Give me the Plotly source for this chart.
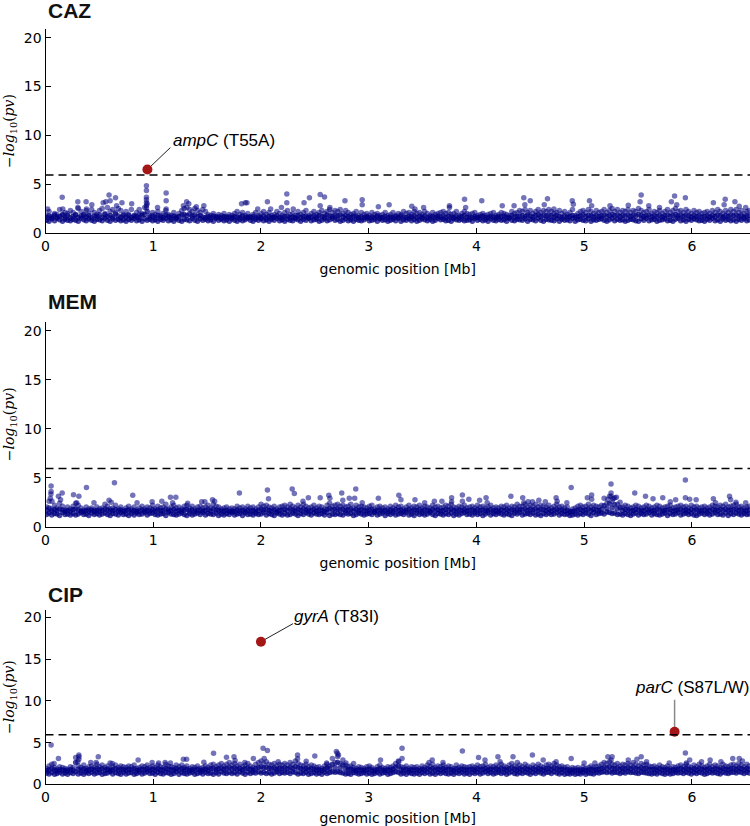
import plotly.graph_objects as go

# ---------------- data ----------------
panels = ["CAZ", "MEM", "CIP"]
threshold = 5.95

# shared SNP positions along the genome, in kb
snp_kb = [
    10, 33, 58, 84, 107, 131, 158, 182, 205, 231,
    256, 280, 304, 330, 355, 378, 402, 428, 453, 477,
    501, 526, 552, 575, 600, 624, 650, 676, 699, 723,
    748, 772, 797, 823, 846, 870, 896, 921, 944, 969,
    994, 1018, 1043, 1068, 1092, 1117, 1141, 1166, 1191, 1214,
    1239, 1265, 1288, 1312, 1338, 1362, 1386, 1411, 1436, 1460,
    1485, 1509, 1534, 1558, 1584, 1607, 1632, 1657, 1681, 1706,
    1731, 1755, 1779, 1804, 1829, 1853, 1878, 1902, 1927, 1951,
    1977, 2001, 2025, 2050, 2075, 2099, 2123, 2148, 2173, 2197,
    2221, 2246, 2271, 2295, 2320, 2344, 2369, 2394, 2418, 2442,
    2467, 2492, 2516, 2540, 2565, 2590, 2614, 2638, 2663, 2688,
    2712, 2736, 2761, 2786, 2810, 2834, 2859, 2884, 2908, 2932,
    2957, 2982, 3006, 3030, 3055, 3080, 3104, 3128, 3153, 3178,
    3202, 3226, 3251, 3276, 3300, 3324, 3349, 3374, 3398, 3422,
    3447, 3472, 3496, 3520, 3545, 3570, 3594, 3618, 3643, 3668,
    3692, 3716, 3741, 3766, 3790, 3814, 3839, 3864, 3888, 3912,
    3937, 3962, 3986, 4010, 4035, 4060, 4084, 4108, 4133, 4158,
    4182, 4206, 4231, 4256, 4280, 4304, 4329, 4354, 4378, 4402,
    4427, 4452, 4476, 4500, 4525, 4550, 4574, 4598, 4623, 4648,
    4672, 4696, 4721, 4746, 4770, 4794, 4819, 4844, 4868, 4892,
    4917, 4942, 4966, 4990, 5015, 5040, 5064, 5088, 5113, 5138,
    5162, 5186, 5211, 5236, 5260, 5284, 5309, 5334, 5358, 5382,
    5407, 5432, 5456, 5480, 5505, 5530, 5554, 5578, 5603, 5628,
    5652, 5676, 5701, 5726, 5750, 5774, 5799, 5824, 5848, 5872,
    5897, 5922, 5946, 5970, 5995, 6020, 6044, 6068, 6093, 6118,
    6142, 6166, 6191, 6216, 6240, 6264, 6289, 6314, 6338, 6362,
    6387, 6412, 6436, 6460, 6485, 6510, 6532,
]

# -log10(p) of the dense band: lower, middle and upper members per position
caz_lo = [
    1.3, 1.2, 1.45, 1.25, 1.5, 1.35, 1.2, 1.4, 1.3, 1.25,
    1.4, 1.3, 1.2, 1.5, 1.35, 1.25, 1.45, 1.3, 1.2, 1.4,
    1.35, 1.25, 1.5, 1.3, 1.2, 1.45, 1.3, 1.4, 1.25, 1.35,
    1.2, 1.4, 1.3, 1.5, 1.25, 1.35, 1.2, 1.45, 1.3, 1.4,
    1.25, 1.35, 1.2, 1.4, 1.3, 1.5, 1.25, 1.35, 1.2, 1.45,
    1.3, 1.2, 1.4, 1.35, 1.25, 1.5, 1.3, 1.2, 1.45, 1.3,
    1.4, 1.25, 1.35, 1.2, 1.5, 1.3, 1.4, 1.25, 1.35, 1.2,
    1.45, 1.3, 1.2, 1.4, 1.25, 1.35, 1.5, 1.3, 1.2, 1.4,
    1.3, 1.45, 1.25, 1.35, 1.2, 1.4, 1.3, 1.5, 1.25, 1.35,
    1.2, 1.4, 1.3, 1.25, 1.45, 1.35, 1.2, 1.4, 1.3, 1.5,
    1.25, 1.35, 1.4, 1.2, 1.3, 1.45, 1.25, 1.35, 1.5, 1.3,
    1.4, 1.2, 1.3, 1.45, 1.25, 1.35, 1.2, 1.4, 1.3, 1.25,
    1.35, 1.5, 1.25, 1.3, 1.4, 1.2, 1.45, 1.3, 1.35, 1.2,
    1.3, 1.4, 1.25, 1.5, 1.2, 1.35, 1.3, 1.45, 1.25, 1.4,
    1.2, 1.3, 1.45, 1.35, 1.25, 1.4, 1.2, 1.3, 1.5, 1.35,
    1.4, 1.25, 1.3, 1.2, 1.45, 1.35, 1.3, 1.4, 1.25, 1.3,
    1.35, 1.2, 1.5, 1.3, 1.4, 1.25, 1.35, 1.2, 1.45, 1.3,
    1.25, 1.4, 1.3, 1.35, 1.2, 1.5, 1.3, 1.25, 1.4, 1.35,
    1.3, 1.45, 1.2, 1.4, 1.35, 1.25, 1.5, 1.3, 1.2, 1.4,
    1.35, 1.3, 1.25, 1.45, 1.2, 1.4, 1.3, 1.35, 1.25, 1.5,
    1.2, 1.35, 1.4, 1.3, 1.25, 1.45, 1.2, 1.35, 1.3, 1.4,
    1.45, 1.3, 1.2, 1.35, 1.5, 1.25, 1.4, 1.3, 1.35, 1.2,
    1.3, 1.4, 1.35, 1.25, 1.2, 1.45, 1.3, 1.5, 1.25, 1.35,
    1.4, 1.2, 1.3, 1.35, 1.45, 1.25, 1.3, 1.2, 1.4, 1.5,
    1.25, 1.35, 1.2, 1.4, 1.3, 1.45, 1.35, 1.25, 1.3, 1.2,
    1.4, 1.3, 1.5, 1.25, 1.35, 1.2, 1.45, 1.3, 1.4, 1.25,
    1.35, 1.2, 1.4, 1.3, 1.45, 1.25, 1.35,
]
caz_mid = [
    1.6, 1.75, 1.55, 1.85, 1.65, 1.7, 1.9, 1.6, 1.8, 1.55,
    1.7, 1.85, 1.6, 1.75, 1.9, 1.65, 1.8, 1.55, 1.75, 1.7,
    1.85, 1.6, 1.9, 1.7, 1.8, 1.65, 1.95, 1.75, 1.6, 1.8,
    1.65, 1.8, 1.55, 1.75, 1.7, 1.6, 1.85, 1.9, 2.2, 1.65,
    1.75, 1.6, 1.8, 1.65, 1.55, 1.85, 1.7, 1.6, 1.75, 1.55,
    1.7, 1.85, 1.9, 1.8, 1.95, 1.75, 1.85, 1.7, 1.8, 1.65,
    1.6, 1.7, 1.55, 1.75, 1.6, 1.65, 1.55, 1.7, 1.6, 1.65,
    1.55, 1.7, 1.65, 1.6, 1.75, 1.55, 1.65, 1.6, 1.7, 1.55,
    1.65, 1.6, 1.75, 1.55, 1.7, 1.6, 1.65, 1.75, 1.55, 1.6,
    1.7, 1.75, 1.6, 1.65, 1.55, 1.8, 1.6, 1.7, 1.75, 1.6,
    1.65, 1.75, 1.6, 1.8, 1.7, 1.65, 1.85, 1.75, 1.7, 1.8,
    1.75, 1.85, 1.65, 1.8, 1.7, 1.6, 1.75, 1.7, 1.6, 1.65,
    1.6, 1.7, 1.55, 1.65, 1.6, 1.75, 1.55, 1.6, 1.7, 1.55,
    1.65, 1.6, 1.7, 1.55, 1.75, 1.65, 1.6, 1.7, 1.65, 1.75,
    1.6, 1.7, 1.65, 1.75, 1.55, 1.65, 1.7, 1.6, 1.75, 1.65,
    1.75, 1.6, 1.7, 1.65, 1.6, 1.75, 1.55, 1.7, 1.8, 1.6,
    1.65, 1.55, 1.7, 1.6, 1.65, 1.75, 1.55, 1.6, 1.7, 1.65,
    1.6, 1.7, 1.65, 1.75, 1.6, 1.55, 1.8, 1.65, 1.7, 1.75,
    1.8, 1.7, 1.85, 1.75, 1.65, 1.8, 1.9, 1.7, 1.8, 1.75,
    1.85, 1.75, 1.65, 1.8, 1.7, 1.6, 1.75, 1.65, 1.7, 1.8,
    1.6, 1.7, 1.75, 1.85, 1.7, 1.8, 1.75, 1.65, 1.8, 1.7,
    1.75, 1.85, 1.7, 1.8, 1.9, 1.75, 1.85, 1.7, 1.8, 1.75,
    1.85, 1.7, 1.8, 1.75, 1.9, 1.8, 1.7, 1.75, 1.85, 1.65,
    1.75, 1.7, 1.8, 1.65, 1.75, 1.85, 1.7, 1.8, 1.9, 1.75,
    1.8, 1.7, 1.85, 1.75, 1.65, 1.8, 1.7, 1.75, 1.65, 1.7,
    1.75, 1.65, 1.8, 1.7, 1.85, 1.75, 1.65, 1.8, 1.7, 1.85,
    1.75, 1.85, 1.7, 1.8, 1.65, 1.75, 1.8,
]
caz_hi = [
    1.8, 2.2, 1.7, 2.0, 1.9, 2.4, 1.8, 2.1, 2.0, 2.3,
    2.1, 1.9, 2.5, 2.2, 1.8, 2.3, 2.0, 2.4, 2.1, 1.9,
    2.3, 2.5, 2.0, 2.6, 2.2, 2.4, 2.1, 2.5, 2.3, 1.9,
    2.2, 1.9, 2.4, 1.8, 2.1, 1.9, 2.0, 2.6, 3.0, 1.8,
    2.1, 1.9, 2.2, 1.8, 2.0, 2.3, 1.9, 1.8, 2.1, 1.7,
    2.0, 2.3, 2.5, 2.6, 2.4, 2.2, 2.5, 2.3, 2.1, 2.4,
    2.2, 1.9, 1.8, 2.0, 1.7, 1.9, 1.8, 2.0, 1.7, 1.9,
    1.8, 2.0, 2.2, 1.9, 2.1, 1.8, 2.0, 1.7, 1.9, 2.1,
    1.8, 2.0, 2.2, 1.9, 2.1, 1.8, 1.9, 2.2, 2.0, 1.8,
    2.1, 2.3, 1.9, 2.0, 1.8, 2.2, 1.9, 2.1, 2.3, 1.8,
    2.0, 2.2, 1.9, 2.1, 2.3, 2.0, 2.2, 2.4, 2.1, 2.3,
    2.2, 2.4, 2.0, 2.3, 2.1, 1.9, 2.0, 2.2, 1.8, 2.1,
    1.9, 2.0, 1.8, 2.1, 1.9, 2.0, 1.8, 1.9, 2.1, 1.8,
    1.9, 2.1, 1.8, 2.0, 1.9, 2.2, 2.0, 2.1, 1.9, 2.2,
    2.0, 2.1, 1.9, 2.2, 2.0, 1.8, 2.1, 1.9, 2.0, 2.1,
    2.2, 2.0, 2.1, 1.9, 2.0, 2.2, 1.8, 2.0, 2.2, 2.0,
    1.9, 2.0, 2.1, 1.8, 1.9, 2.0, 1.8, 1.9, 2.0, 2.1,
    1.8, 1.9, 2.1, 2.0, 1.9, 1.8, 2.2, 2.0, 2.1, 2.3,
    2.2, 2.4, 2.1, 2.3, 2.0, 2.2, 2.4, 2.1, 2.3, 2.2,
    2.4, 2.2, 2.0, 2.1, 2.3, 2.0, 2.2, 1.9, 2.1, 2.4,
    1.8, 2.0, 2.2, 2.3, 2.1, 2.4, 2.2, 2.0, 2.3, 2.1,
    2.2, 2.4, 2.1, 2.3, 2.5, 2.2, 2.4, 2.1, 2.3, 2.2,
    2.4, 2.1, 2.3, 2.2, 2.5, 2.3, 2.1, 2.2, 2.4, 2.0,
    2.2, 2.1, 2.3, 2.0, 2.2, 2.4, 2.1, 2.3, 2.5, 2.2,
    2.3, 2.1, 2.4, 2.2, 2.0, 2.3, 2.1, 2.2, 2.0, 2.1,
    2.2, 2.0, 2.3, 2.1, 2.4, 2.2, 2.0, 2.3, 2.1, 2.4,
    2.2, 2.4, 2.1, 2.3, 2.0, 2.2, 2.3,
]
# isolated higher points (Mb, -log10 p)
caz_peaks = [
    (0.02, 2.45), (0.155, 3.65), (0.16, 2.45), (0.30, 3.2), (0.30, 2.6),
    (0.377, 3.2), (0.38, 2.45), (0.43, 2.9), (0.535, 3.1), (0.56, 3.2),
    (0.59, 3.9), (0.60, 3.3), (0.65, 3.6), (0.66, 2.8), (0.71, 3.1),
    (0.80, 3.0), (0.87, 2.4), (0.937, 4.85), (0.937, 4.35), (0.937, 3.65),
    (0.937, 3.4), (0.937, 3.1), (0.937, 2.8), (0.937, 2.55), (1.04, 2.6),
    (1.12, 4.1), (1.12, 3.3), (1.12, 2.45), (1.28, 2.8), (1.31, 3.2),
    (1.33, 3.0), (1.40, 2.7), (1.47, 2.8), (1.82, 3.0), (1.855, 3.1),
    (1.87, 3.1), (1.97, 2.45), (2.06, 3.2), (2.09, 2.45), (2.19, 2.6),
    (2.24, 4.0), (2.24, 3.1), (2.30, 2.45), (2.40, 3.1), (2.45, 3.6),
    (2.55, 3.95), (2.59, 3.7), (2.55, 2.8), (2.64, 2.6), (2.78, 3.3),
    (2.94, 3.4), (2.94, 2.9), (3.09, 2.7), (3.19, 2.9), (3.40, 2.75),
    (3.43, 2.45), (3.51, 2.6), (3.75, 2.8), (3.75, 2.6), (3.89, 3.45),
    (3.90, 2.6), (4.05, 3.3), (4.24, 2.8), (4.35, 2.8), (4.44, 3.6),
    (4.45, 2.9), (4.50, 3.3), (4.63, 2.9), (4.66, 3.5), (4.72, 2.45),
    (4.89, 3.3), (4.90, 2.95), (5.05, 3.3), (5.07, 2.8), (5.24, 2.8),
    (5.41, 2.85), (5.53, 3.9), (5.52, 3.2), (5.60, 2.8), (5.70, 2.6),
    (5.81, 3.2), (5.84, 3.8), (5.86, 2.9), (5.94, 3.6), (6.20, 3.1),
    (6.31, 3.45), (6.30, 2.9), (6.40, 3.2), (6.44, 2.75), (6.50, 2.6),
]
caz_hits = [(0.946, 6.5, "<i>ampC</i> (T55A)")]

mem_lo = [
    1.25, 1.4, 1.2, 1.35, 1.3, 1.15, 1.45, 1.25, 1.3, 1.2,
    1.35, 1.2, 1.3, 1.45, 1.25, 1.3, 1.15, 1.4, 1.25, 1.35,
    1.2, 1.3, 1.4, 1.25, 1.15, 1.35, 1.3, 1.2, 1.45, 1.25,
    1.3, 1.15, 1.35, 1.2, 1.4, 1.25, 1.3, 1.45, 1.2, 1.35,
    1.4, 1.25, 1.2, 1.3, 1.35, 1.15, 1.45, 1.3, 1.25, 1.2,
    1.3, 1.4, 1.25, 1.15, 1.35, 1.2, 1.3, 1.4, 1.25, 1.45,
    1.2, 1.35, 1.3, 1.25, 1.4, 1.15, 1.3, 1.2, 1.35, 1.25,
    1.45, 1.2, 1.3, 1.35, 1.15, 1.4, 1.25, 1.3, 1.2, 1.35,
    1.25, 1.3, 1.45, 1.2, 1.35, 1.25, 1.15, 1.4, 1.3, 1.2,
    1.35, 1.2, 1.25, 1.4, 1.3, 1.15, 1.35, 1.25, 1.45, 1.3,
    1.2, 1.4, 1.3, 1.25, 1.35, 1.2, 1.45, 1.15, 1.3, 1.25,
    1.35, 1.25, 1.2, 1.4, 1.3, 1.35, 1.15, 1.25, 1.4, 1.3,
    1.2, 1.3, 1.35, 1.25, 1.45, 1.2, 1.3, 1.4, 1.15, 1.35,
    1.25, 1.4, 1.2, 1.3, 1.35, 1.25, 1.45, 1.2, 1.3, 1.15,
    1.4, 1.25, 1.35, 1.2, 1.3, 1.45, 1.25, 1.15, 1.35, 1.3,
    1.2, 1.35, 1.25, 1.4, 1.15, 1.3, 1.2, 1.35, 1.45, 1.25,
    1.3, 1.2, 1.4, 1.25, 1.35, 1.15, 1.3, 1.45, 1.2, 1.35,
    1.25, 1.4, 1.3, 1.2, 1.35, 1.25, 1.15, 1.4, 1.3, 1.45,
    1.2, 1.3, 1.35, 1.25, 1.4, 1.2, 1.3, 1.15, 1.35, 1.25,
    1.4, 1.25, 1.3, 1.45, 1.2, 1.35, 1.25, 1.3, 1.15, 1.2,
    1.3, 1.2, 1.35, 1.25, 1.4, 1.3, 1.15, 1.45, 1.25, 1.35,
    1.4, 1.3, 1.5, 1.45, 1.35, 1.4, 1.25, 1.3, 1.2, 1.35,
    1.25, 1.15, 1.3, 1.4, 1.2, 1.35, 1.25, 1.3, 1.45, 1.2,
    1.35, 1.25, 1.2, 1.3, 1.4, 1.15, 1.35, 1.25, 1.3, 1.45,
    1.2, 1.3, 1.4, 1.25, 1.35, 1.2, 1.15, 1.3, 1.4, 1.25,
    1.35, 1.2, 1.3, 1.45, 1.25, 1.3, 1.2, 1.4, 1.15, 1.35,
    1.25, 1.4, 1.3, 1.2, 1.35, 1.25, 1.3,
]
mem_mid = [
    1.7, 1.9, 1.6, 1.75, 1.65, 1.8, 1.7, 1.55, 1.65, 1.6,
    1.75, 1.8, 1.7, 1.6, 1.55, 1.65, 1.6, 1.7, 1.55, 1.65,
    1.6, 1.65, 1.8, 1.7, 1.6, 1.65, 1.75, 1.6, 1.7, 1.55,
    1.65, 1.7, 1.6, 1.65, 1.55, 1.6, 1.7, 1.6, 1.65, 1.6,
    1.75, 1.6, 1.7, 1.65, 1.6, 1.8, 1.6, 1.65, 1.75, 1.6,
    1.65, 1.6, 1.7, 1.75, 1.6, 1.7, 1.55, 1.65, 1.7, 1.6,
    1.65, 1.75, 1.6, 1.8, 1.7, 1.65, 1.6, 1.6, 1.65, 1.55,
    1.6, 1.55, 1.7, 1.6, 1.65, 1.55, 1.7, 1.6, 1.65, 1.55,
    1.65, 1.8, 1.7, 1.75, 1.65, 1.6, 1.7, 1.55, 1.65, 1.7,
    1.75, 1.65, 1.8, 1.7, 1.6, 1.75, 1.65, 1.8, 1.7, 1.6,
    1.65, 1.75, 1.6, 1.7, 1.65, 1.55, 1.75, 1.85, 1.7, 1.75,
    1.8, 1.7, 1.75, 1.65, 1.7, 1.8, 1.6, 1.75, 1.65, 1.7,
    1.65, 1.6, 1.7, 1.75, 1.55, 1.65, 1.7, 1.6, 1.65, 1.55,
    1.7, 1.6, 1.75, 1.65, 1.7, 1.55, 1.65, 1.75, 1.6, 1.7,
    1.65, 1.75, 1.6, 1.7, 1.65, 1.6, 1.75, 1.65, 1.7, 1.6,
    1.65, 1.75, 1.7, 1.8, 1.65, 1.6, 1.7, 1.65, 1.75, 1.6,
    1.65, 1.7, 1.6, 1.75, 1.65, 1.7, 1.6, 1.65, 1.75, 1.6,
    1.65, 1.6, 1.7, 1.65, 1.75, 1.6, 1.7, 1.65, 1.8, 1.7,
    1.7, 1.8, 1.65, 1.75, 1.7, 1.8, 1.65, 1.75, 1.7, 1.65,
    1.75, 1.6, 1.7, 1.8, 1.65, 1.7, 1.6, 1.65, 1.5, 1.55,
    1.6, 1.7, 1.75, 1.65, 1.7, 1.8, 1.65, 1.75, 1.7, 1.65,
    1.75, 2.15, 1.85, 2.35, 1.9, 2.25, 1.8, 1.95, 1.65, 1.75,
    1.7, 1.6, 1.65, 1.75, 1.7, 1.6, 1.65, 1.75, 1.7, 1.6,
    1.65, 1.75, 1.7, 1.6, 1.65, 1.7, 1.75, 1.6, 1.65, 1.7,
    1.75, 1.65, 1.7, 1.6, 1.75, 1.65, 1.7, 1.6, 1.65, 1.7,
    1.6, 1.65, 1.75, 1.7, 1.65, 1.75, 1.7, 1.8, 1.65, 1.7,
    1.75, 1.8, 1.65, 1.7, 1.6, 1.65, 1.7,
]
mem_hi = [
    2.0, 2.6, 1.8, 2.2, 1.9, 2.4, 2.1, 1.7, 2.0, 1.8,
    2.1, 2.4, 2.2, 1.9, 1.7, 2.0, 1.8, 1.9, 1.7, 2.0,
    1.8, 1.9, 2.3, 2.1, 1.8, 1.9, 2.2, 1.8, 2.0, 1.7,
    1.9, 2.1, 1.8, 2.0, 1.7, 1.9, 2.1, 1.8, 2.0, 1.9,
    2.2, 1.8, 2.1, 1.9, 2.0, 2.3, 1.8, 2.0, 2.2, 1.9,
    2.0, 1.8, 2.1, 2.2, 1.9, 2.1, 1.8, 2.0, 2.1, 1.9,
    2.0, 2.2, 1.9, 2.3, 2.1, 2.0, 1.8, 1.9, 2.0, 1.8,
    1.9, 1.8, 2.1, 1.9, 2.0, 1.8, 2.1, 1.9, 2.0, 1.8,
    2.0, 2.3, 2.1, 2.2, 2.0, 1.9, 2.1, 1.8, 2.0, 2.1,
    2.2, 2.0, 2.3, 2.1, 1.9, 2.2, 2.0, 2.3, 2.1, 1.9,
    2.0, 2.2, 1.9, 2.1, 2.0, 1.8, 2.2, 2.4, 2.1, 2.2,
    2.3, 2.1, 2.2, 2.0, 2.1, 2.3, 1.9, 2.2, 2.0, 2.1,
    2.0, 1.9, 2.1, 2.2, 1.8, 2.0, 2.1, 1.9, 2.0, 1.8,
    2.1, 1.9, 2.2, 2.0, 2.1, 1.8, 2.0, 2.2, 1.9, 2.1,
    2.0, 2.2, 1.9, 2.1, 2.0, 1.9, 2.2, 2.0, 2.1, 1.9,
    2.0, 2.2, 2.1, 2.3, 2.0, 1.9, 2.1, 2.0, 2.2, 1.9,
    2.0, 2.1, 1.9, 2.2, 2.0, 2.1, 1.9, 2.0, 2.2, 1.9,
    2.0, 1.9, 2.1, 2.0, 2.2, 1.9, 2.1, 2.0, 2.3, 2.1,
    2.1, 2.3, 2.0, 2.2, 2.1, 2.3, 2.0, 2.2, 2.1, 2.0,
    2.2, 1.9, 2.1, 2.3, 2.0, 2.1, 1.9, 2.0, 1.6, 1.8,
    1.9, 2.1, 2.2, 2.0, 2.1, 2.3, 2.0, 2.2, 2.1, 2.0,
    2.2, 2.9, 2.4, 3.1, 2.6, 2.95, 2.3, 2.5, 2.0, 2.2,
    2.1, 1.9, 2.0, 2.2, 2.1, 1.9, 2.0, 2.2, 2.1, 1.9,
    2.0, 2.2, 2.1, 1.9, 2.0, 2.1, 2.2, 1.9, 2.0, 2.1,
    2.2, 2.0, 2.1, 1.9, 2.2, 2.0, 2.1, 1.9, 2.0, 2.1,
    1.9, 2.0, 2.2, 2.1, 2.0, 2.2, 2.1, 2.3, 2.0, 2.1,
    2.2, 2.3, 2.0, 2.1, 1.9, 2.0, 2.1,
]
mem_peaks = [
    (0.052, 4.15), (0.052, 3.6), (0.05, 3.35), (0.045, 2.9), (0.06, 2.6),
    (0.12, 3.1), (0.155, 3.45), (0.14, 2.75), (0.26, 3.25), (0.31, 3.1),
    (0.29, 2.45), (0.38, 4.0), (0.45, 2.45), (0.64, 4.5), (0.59, 2.7),
    (0.61, 2.5), (0.81, 3.2), (0.85, 2.45), (0.99, 2.55), (1.08, 2.6),
    (1.16, 3.0), (1.21, 3.0), (1.18, 2.45), (1.32, 2.4), (1.45, 2.55),
    (1.48, 2.55), (1.55, 2.75), (1.57, 2.6), (1.80, 3.45), (2.06, 3.75),
    (2.07, 2.85), (2.29, 3.85), (2.31, 3.4), (2.39, 2.6), (2.44, 2.95),
    (2.55, 2.95), (2.63, 3.2), (2.64, 2.9), (2.75, 3.45), (2.76, 2.7),
    (2.82, 2.9), (2.88, 3.85), (2.87, 2.9), (2.94, 2.45), (3.09, 2.9),
    (3.28, 3.2), (3.30, 2.75), (3.43, 2.75), (3.52, 2.45), (3.61, 2.6),
    (3.68, 2.6), (3.77, 2.95), (3.77, 2.55), (3.87, 3.24), (3.87, 2.6),
    (3.93, 2.8), (4.03, 2.7), (4.09, 2.95), (4.10, 2.45), (4.32, 3.1),
    (4.43, 2.95), (4.44, 2.45), (4.48, 2.55), (4.52, 2.55), (4.58, 2.7),
    (4.64, 2.55), (4.74, 2.95), (4.75, 2.6), (4.84, 2.45), (4.88, 4.0),
    (5.03, 2.95), (5.07, 3.24), (5.07, 2.8), (5.25, 4.35), (5.25, 3.45),
    (5.25, 3.1), (5.27, 2.85), (5.30, 3.0), (5.22, 2.8), (5.47, 3.45),
    (5.57, 3.1), (5.64, 2.85), (5.73, 2.95), (5.80, 2.55), (5.85, 2.75),
    (5.94, 4.77), (5.94, 2.95), (5.98, 2.8), (6.04, 2.75), (6.20, 2.85),
    (6.22, 2.45), (6.35, 3.1), (6.36, 2.75), (6.41, 2.5), (6.50, 2.45),
]
mem_hits = []

cip_lo = [
    1.35, 1.25, 1.4, 1.2, 1.3, 1.45, 1.25, 1.35, 1.2, 1.4,
    1.3, 1.5, 1.25, 1.35, 1.2, 1.4, 1.3, 1.45, 1.25, 1.35,
    1.4, 1.2, 1.3, 1.35, 1.5, 1.25, 1.4, 1.3, 1.2, 1.45,
    1.25, 1.35, 1.4, 1.2, 1.3, 1.45, 1.25, 1.35, 1.5, 1.3,
    1.35, 1.2, 1.45, 1.3, 1.25, 1.4, 1.35, 1.2, 1.3, 1.5,
    1.2, 1.4, 1.3, 1.25, 1.35, 1.45, 1.2, 1.3, 1.4, 1.25,
    1.45, 1.3, 1.35, 1.2, 1.4, 1.25, 1.5, 1.35, 1.3, 1.45,
    1.3, 1.4, 1.25, 1.5, 1.35, 1.2, 1.45, 1.3, 1.4, 1.35,
    1.5, 1.35, 1.45, 1.3, 1.4, 1.25, 1.35, 1.5, 1.3, 1.4,
    1.35, 1.45, 1.3, 1.5, 1.4, 1.25, 1.35, 1.3, 1.45, 1.2,
    1.3, 1.4, 1.25, 1.35, 1.2, 1.45, 1.3, 1.4, 1.5, 1.45,
    1.5, 1.4, 1.35, 1.25, 1.3, 1.2, 1.4, 1.35, 1.25, 1.3,
    1.4, 1.25, 1.35, 1.2, 1.3, 1.45, 1.25, 1.35, 1.4, 1.2,
    1.3, 1.4, 1.5, 1.45, 1.25, 1.35, 1.2, 1.4, 1.3, 1.25,
    1.35, 1.2, 1.4, 1.3, 1.45, 1.25, 1.35, 1.2, 1.4, 1.3,
    1.45, 1.3, 1.25, 1.35, 1.2, 1.4, 1.3, 1.45, 1.25, 1.35,
    1.2, 1.4, 1.3, 1.45, 1.25, 1.35, 1.5, 1.3, 1.4, 1.25,
    1.35, 1.45, 1.3, 1.4, 1.2, 1.35, 1.5, 1.3, 1.25, 1.4,
    1.3, 1.45, 1.35, 1.2, 1.4, 1.3, 1.5, 1.35, 1.25, 1.4,
    1.45, 1.3, 1.5, 1.35, 1.25, 1.4, 1.2, 1.3, 1.25, 1.35,
    1.2, 1.3, 1.25, 1.4, 1.2, 1.35, 1.3, 1.25, 1.4, 1.35,
    1.45, 1.5, 1.4, 1.5, 1.35, 1.45, 1.4, 1.3, 1.45, 1.35,
    1.5, 1.4, 1.45, 1.35, 1.3, 1.45, 1.4, 1.35, 1.3, 1.25,
    1.35, 1.25, 1.4, 1.3, 1.2, 1.35, 1.25, 1.3, 1.4, 1.35,
    1.4, 1.3, 1.45, 1.35, 1.25, 1.4, 1.3, 1.45, 1.35, 1.2,
    1.3, 1.45, 1.35, 1.4, 1.3, 1.25, 1.45, 1.35, 1.3, 1.4,
    1.45, 1.35, 1.5, 1.4, 1.3, 1.45, 1.35,
]
cip_mid = [
    1.65, 1.75, 1.9, 1.7, 1.6, 1.75, 1.7, 1.65, 1.6, 1.75,
    1.7, 2.6, 1.8, 1.7, 1.85, 1.65, 1.75, 1.8, 1.7, 1.9,
    1.75, 1.85, 1.7, 1.8, 1.65, 1.75, 1.85, 1.7, 1.8, 1.75,
    1.7, 1.8, 1.75, 1.85, 1.65, 1.7, 1.8, 1.75, 1.85, 1.7,
    1.8, 1.7, 1.85, 1.75, 1.7, 1.9, 1.8, 1.75, 1.7, 1.85,
    1.75, 1.85, 1.7, 1.8, 1.65, 1.75, 1.7, 1.8, 1.65, 1.7,
    1.8, 1.7, 1.85, 1.9, 1.75, 1.85, 1.95, 1.8, 1.9, 2.0,
    1.85, 1.95, 1.8, 1.9, 1.75, 1.85, 1.95, 1.8, 1.7, 1.9,
    2.0, 2.1, 1.95, 2.05, 1.9, 1.85, 1.95, 1.8, 1.9, 1.85,
    1.95, 1.85, 2.0, 1.9, 2.1, 1.95, 1.85, 1.8, 1.9, 1.75,
    1.85, 1.8, 1.7, 1.75, 1.65, 1.8, 1.95, 1.85, 2.4, 2.0,
    2.6, 1.95, 2.3, 1.85, 1.75, 1.8, 1.7, 1.65, 1.75, 1.7,
    1.65, 1.75, 1.8, 1.7, 1.6, 1.75, 1.85, 1.7, 1.65, 1.75,
    1.7, 1.8, 2.0, 2.2, 1.75, 1.7, 1.8, 1.65, 1.75, 1.7,
    1.75, 1.65, 1.8, 1.7, 1.85, 1.75, 1.9, 1.7, 1.8, 1.75,
    1.85, 1.7, 1.8, 1.75, 1.65, 1.85, 1.7, 1.8, 1.75, 1.7,
    1.75, 1.8, 1.7, 1.85, 1.75, 1.8, 1.9, 1.7, 1.8, 1.75,
    1.85, 1.75, 1.9, 1.8, 1.7, 1.85, 1.95, 1.8, 1.7, 1.85,
    1.75, 1.9, 1.8, 1.7, 1.85, 1.75, 1.9, 1.8, 1.7, 1.85,
    1.9, 1.8, 1.95, 1.85, 1.75, 1.8, 1.7, 1.75, 1.6, 1.7,
    1.65, 1.7, 1.6, 1.75, 1.65, 1.7, 1.8, 1.7, 1.75, 1.8,
    1.9, 2.0, 1.95, 2.1, 1.9, 1.85, 1.95, 1.8, 1.9, 1.85,
    1.95, 1.85, 2.0, 1.9, 1.8, 1.95, 1.85, 1.9, 1.8, 1.75,
    1.8, 1.7, 1.85, 1.75, 1.7, 1.8, 1.65, 1.75, 1.7, 1.8,
    1.85, 1.75, 1.9, 1.8, 1.7, 1.85, 1.75, 1.9, 1.8, 1.7,
    1.8, 1.9, 1.75, 1.85, 1.8, 1.7, 1.9, 1.8, 1.75, 1.85,
    1.9, 1.8, 1.95, 1.85, 1.75, 1.9, 1.8,
]
cip_hi = [
    1.9, 2.2, 2.4, 2.0, 1.8, 2.1, 2.0, 1.9, 1.8, 2.1,
    2.0, 3.2, 2.2, 2.0, 2.3, 1.9, 2.1, 2.2, 2.0, 2.4,
    2.1, 2.3, 2.0, 2.2, 1.9, 2.1, 2.3, 2.0, 2.2, 2.1,
    2.0, 2.2, 2.1, 2.3, 1.9, 2.0, 2.2, 2.1, 2.3, 2.0,
    2.2, 2.0, 2.3, 2.1, 2.0, 2.4, 2.2, 2.1, 2.0, 2.3,
    2.1, 2.3, 2.0, 2.2, 1.9, 2.1, 2.0, 2.2, 1.9, 2.0,
    2.2, 2.0, 2.3, 2.4, 2.1, 2.3, 2.5, 2.2, 2.4, 2.6,
    2.3, 2.5, 2.2, 2.4, 2.1, 2.3, 2.5, 2.2, 2.0, 2.4,
    2.6, 2.8, 2.5, 2.7, 2.4, 2.3, 2.5, 2.2, 2.4, 2.3,
    2.5, 2.3, 2.6, 2.4, 2.8, 2.5, 2.3, 2.2, 2.4, 2.1,
    2.3, 2.2, 2.0, 2.1, 1.9, 2.2, 2.4, 2.2, 3.1, 2.6,
    3.3, 2.5, 2.9, 2.3, 2.1, 2.2, 2.0, 1.9, 2.1, 2.0,
    1.9, 2.1, 2.2, 2.0, 1.8, 2.1, 2.3, 2.0, 1.9, 2.1,
    2.0, 2.2, 2.5, 2.8, 2.1, 2.0, 2.2, 1.9, 2.1, 2.0,
    2.1, 1.9, 2.2, 2.0, 2.3, 2.1, 2.4, 2.0, 2.2, 2.1,
    2.3, 2.0, 2.2, 2.1, 1.9, 2.3, 2.0, 2.2, 2.1, 2.0,
    2.1, 2.2, 2.0, 2.3, 2.1, 2.2, 2.4, 2.0, 2.2, 2.1,
    2.3, 2.1, 2.4, 2.2, 2.0, 2.3, 2.5, 2.2, 2.0, 2.3,
    2.1, 2.4, 2.2, 2.0, 2.3, 2.1, 2.4, 2.2, 2.0, 2.3,
    2.4, 2.2, 2.5, 2.3, 2.1, 2.2, 2.0, 2.1, 1.8, 2.0,
    1.9, 2.0, 1.8, 2.1, 1.9, 2.0, 2.2, 2.0, 2.1, 2.2,
    2.4, 2.6, 2.5, 2.7, 2.4, 2.3, 2.5, 2.2, 2.4, 2.3,
    2.5, 2.3, 2.6, 2.4, 2.2, 2.5, 2.3, 2.4, 2.2, 2.1,
    2.2, 2.0, 2.3, 2.1, 2.0, 2.2, 1.9, 2.1, 2.0, 2.2,
    2.3, 2.1, 2.4, 2.2, 2.0, 2.3, 2.1, 2.4, 2.2, 2.0,
    2.2, 2.4, 2.1, 2.3, 2.2, 2.0, 2.4, 2.2, 2.1, 2.3,
    2.4, 2.2, 2.5, 2.3, 2.1, 2.4, 2.2,
]
cip_peaks = [
    (0.052, 4.72), (0.12, 3.1), (0.08, 2.5), (0.31, 3.5), (0.31, 3.3),
    (0.31, 3.0), (0.30, 2.7), (0.42, 2.6), (0.47, 2.6), (0.49, 3.3),
    (0.60, 2.55), (0.62, 2.5), (0.86, 2.9), (0.99, 2.6), (1.05, 2.55),
    (1.11, 2.6), (1.16, 2.55), (1.28, 3.0), (1.31, 3.0), (1.47, 2.65),
    (1.56, 3.72), (1.68, 3.25), (1.75, 3.3), (1.76, 2.85), (1.85, 2.6),
    (1.93, 3.1), (2.02, 4.32), (2.06, 4.05), (2.03, 3.1), (2.16, 2.7),
    (2.34, 3.5), (2.34, 3.05), (2.42, 2.75), (2.50, 3.4), (2.61, 2.55),
    (2.70, 3.92), (2.71, 3.72), (2.72, 3.5), (2.79, 2.55), (2.86, 2.5),
    (3.11, 2.9), (3.31, 4.32), (3.31, 3.1), (3.28, 2.7), (3.56, 2.6),
    (3.59, 2.9), (3.69, 2.6), (3.87, 4.0), (4.02, 3.2), (4.08, 2.9),
    (4.20, 3.3), (4.22, 2.7), (4.34, 3.3), (4.38, 2.6), (4.52, 3.52),
    (4.62, 2.9), (4.74, 2.7), (4.88, 3.1), (5.00, 2.55), (5.10, 2.55),
    (5.22, 3.3), (5.26, 3.3), (5.25, 2.9), (5.41, 2.9), (5.49, 3.0),
    (5.53, 3.3), (5.58, 2.7), (5.79, 2.55), (5.94, 3.75), (5.95, 2.55),
    (5.98, 2.9), (6.09, 2.7), (6.17, 2.9), (6.27, 2.7), (6.38, 3.1),
    (6.44, 3.1), (6.47, 2.8),
]
cip_hits = [(2.0, 17.1, "<i>gyrA</i> (T83I)"), (5.84, 6.3, "<i>parC</i> (S87L/W)")]

x_ticks = [0, 1, 2, 3, 4, 5, 6]
y_ticks = [0, 5, 10, 15, 20]
x_label = "genomic position [Mb]"
y_label = "\u2212<i>log</i><sub>10</sub>(<i>pv</i>)"

# ---------------- styling / layout ----------------
W, H = 750, 826
NAVY = "#000080"
HIT = "#a51616"
X_RANGE = [0, 6.54]
Y_RANGE = [0, 20.9]
X_DOM = [45.5 / W, 1.0]
panel_px = [(29, 233), (322, 526.7), (610, 784.3)]   # plot area top/bottom (px)
title_px = [10.5, 301.5, 594.5]
# leader-line pixel offsets and label pixel offsets for the highlighted hits
hit_style = {
    "CAZ": [dict(dx=23, dy=22, xs=23.5, ys=29, col="#222222", w=1)],
    "MEM": [],
    "CIP": [dict(dx=32, dy=18, xs=31.5, ys=25, col="#222222", w=1),
            dict(dx=0, dy=32, xs=-42, ys=44, col="#8a8a8a", w=1.5)],
}

data = {
    "CAZ": (caz_lo, caz_mid, caz_hi, caz_peaks, caz_hits),
    "MEM": (mem_lo, mem_mid, mem_hi, mem_peaks, mem_hits),
    "CIP": (cip_lo, cip_mid, cip_hi, cip_peaks, cip_hits),
}

snp_mb = [k / 1000.0 for k in snp_kb]

fig = go.Figure()
annotations, shapes, layout_axes = [], [], {}
tick_font = dict(family="DejaVu Sans", size=14, color="black")

for i, name in enumerate(panels, start=1):
    lo, mid, hi, peaks, hits = data[name]
    xa = "x" if i == 1 else f"x{i}"
    ya = "y" if i == 1 else f"y{i}"

    # dense band (heavily overlapping points -> darker)
    bx, by = [], []
    for row in (lo, mid):
        for x, y in zip(snp_mb, row):
            bx.append(x)
            by.append(y)
    fig.add_trace(go.Scatter(
        x=bx, y=by, mode="markers", xaxis=xa, yaxis=ya,
        marker=dict(color=NAVY, size=5.5, opacity=0.72, line=dict(width=0)),
        showlegend=False, hoverinfo="skip"))
    # upper fringe and isolated points
    ux = list(snp_mb[:len(hi)]) + [p[0] for p in peaks]
    uy = list(hi) + [p[1] for p in peaks]
    fig.add_trace(go.Scatter(
        x=ux, y=uy, mode="markers", xaxis=xa, yaxis=ya,
        marker=dict(color=NAVY, size=5.5, opacity=0.55, line=dict(width=0)),
        showlegend=False, hoverinfo="skip"))
    if hits:
        fig.add_trace(go.Scatter(
            x=[h[0] for h in hits], y=[h[1] for h in hits], mode="markers",
            xaxis=xa, yaxis=ya,
            marker=dict(color=HIT, size=10, line=dict(width=0)),
            showlegend=False, hoverinfo="skip"))

    top, bot = panel_px[i - 1]
    ydom = [1 - bot / H, 1 - top / H]
    axis_common = dict(ticks="inside", ticklen=5, tickwidth=1, tickcolor="black",
                       showline=True, linecolor="black", linewidth=1.3,
                       showgrid=False, zeroline=False, tickfont=tick_font,
                       fixedrange=True, automargin=False)
    layout_axes["xaxis" if i == 1 else f"xaxis{i}"] = dict(
        domain=X_DOM, anchor=ya, range=X_RANGE, tickvals=x_ticks,
        title=dict(text=x_label, standoff=11,
                   font=dict(family="DejaVu Sans", size=14, color="black")),
        **axis_common)
    layout_axes["yaxis" if i == 1 else f"yaxis{i}"] = dict(
        domain=ydom, anchor=xa, range=Y_RANGE, tickvals=y_ticks,
        title=dict(text=y_label, standoff=5,
                   font=dict(family="DejaVu Serif", size=14, color="black")),
        **axis_common)

    # significance threshold
    shapes.append(dict(type="line", xref=f"{xa} domain", x0=0, x1=1,
                       yref=ya, y0=threshold, y1=threshold,
                       line=dict(color="black", width=1.5, dash="8px,5px")))

    annotations.append(dict(text=f"<b>{name}</b>", xref="paper", yref="paper",
                            x=46 / W, y=1 - title_px[i - 1] / H,
                            xanchor="left", yanchor="middle", showarrow=False,
                            font=dict(family="Liberation Sans", size=21, color="#111111")))

    for (hx, hy, label), st in zip(hits, hit_style[name]):
        shapes.append(dict(type="line", xref=xa, yref=ya,
                           xsizemode="pixel", ysizemode="pixel",
                           xanchor=hx, yanchor=hy,
                           x0=0, y0=0, x1=st["dx"], y1=st["dy"],
                           line=dict(color=st["col"], width=st["w"]),
                           layer="below"))
        annotations.append(dict(text=label, x=hx, y=hy, xref=xa, yref=ya,
                                showarrow=False, xanchor="left", yanchor="middle",
                                xshift=st["xs"], yshift=st["ys"],
                                font=dict(family="Liberation Sans", size=17, color="black")))

fig.update_layout(
    width=W, height=H,
    margin=dict(l=0, r=0, t=0, b=0, autoexpand=False),
    plot_bgcolor="white", paper_bgcolor="white",
    showlegend=False,
    annotations=annotations, shapes=shapes,
    **layout_axes)

fig.write_html("out.html",
               config={"displayModeBar": False},
               post_script="document.body.style.margin='0';document.body.style.padding='0';")
